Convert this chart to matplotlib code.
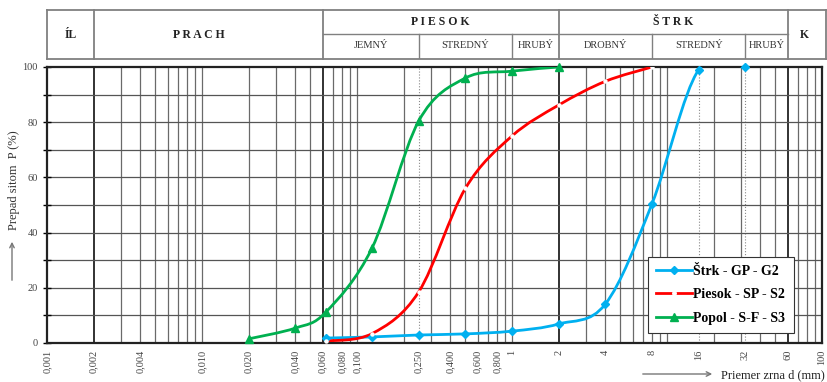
import numpy as np
import matplotlib
matplotlib.use('Agg')
import matplotlib.pyplot as plt
from matplotlib.path import Path
from matplotlib.patches import PathPatch, FancyArrowPatch
from matplotlib.lines import Line2D

plt.rcParams['font.family'] = ['Liberation Serif', 'DejaVu Serif']

# grain size curves (d in mm, passing in %)
d_strk = [0.063, 0.125, 0.25, 0.5, 1, 2, 4, 8, 16, 32]
p_strk = [1.8, 2.2, 2.9, 3.3, 4.3, 6.9, 14.1, 50.4, 99, 100]

d_piesok = [0.063, 0.125, 0.25, 0.5, 1, 2, 4, 8]
p_piesok = [0.7, 3.4, 18.5, 56, 75, 86.2, 94.8, 100]

d_popol = [0.02, 0.04, 0.063, 0.125, 0.25, 0.5, 1, 2]
p_popol = [1.5, 5.4, 11.2, 34.4, 80.4, 96, 98.5, 100]

series_names = ['Štrk - GP - G2', 'Piesok - SP - S2', 'Popol - S-F - S3']

xtick_vals = [0.001, 0.002, 0.004, 0.01, 0.02, 0.04, 0.06, 0.08, 0.1, 0.25,
              0.4, 0.6, 0.8, 1, 2, 4, 8, 16, 32, 60, 100]
xtick_labels = ['0,001', '0,002', '0,004', '0,010', '0,020', '0,040', '0,060',
                '0,080', '0,100', '0,250', '0,400', '0,600', '0,800', '1', '2',
                '4', '8', '16', '32', '60', '100']

# header classification (bounds in mm)
main_classes = [('ÍL', 0.001, 0.002), ('P R A C H', 0.002, 0.06),
                ('P I E S O K', 0.06, 2), ('Š T R K', 2, 60), ('K', 60, 100)]
sub_classes = [('JEMNÝ', 0.06, 0.25), ('STREDNÝ', 0.25, 1), ('HRUBÝ', 1, 2),
               ('DROBNÝ', 2, 8), ('STREDNÝ', 8, 32), ('HRUBÝ', 32, 60)]


def smooth_path(xs, ys):
    # excel-like smoothed line, bezier in log-x space
    pts = np.column_stack([np.log10(xs), ys])
    n = len(pts)
    verts = [pts[0]]
    codes = [Path.MOVETO]
    for i in range(n - 1):
        p0 = pts[max(i - 1, 0)]
        p1 = pts[i]
        p2 = pts[i + 1]
        p3 = pts[min(i + 2, n - 1)]
        verts += [p1 + (p2 - p0) / 6, p2 - (p3 - p1) / 6, p2]
        codes += [Path.CURVE4] * 3
    verts = np.array(verts)
    verts[:, 0] = 10 ** verts[:, 0]
    return Path(verts, codes)


W, H = 828, 382
fig = plt.figure(figsize=(W / 100, H / 100), dpi=100)
left, right, top, bottom = 47, 822, 67, 343
ax = fig.add_axes([left / W, 1 - bottom / H, (right - left) / W, (bottom - top) / H])
ax.set_xscale('log')
ax.set_xlim(0.001, 100)
ax.set_ylim(0, 100)

# grid
for dec in [0.001, 0.01, 0.1, 1, 10]:
    for k in range(1, 10):
        v = dec * k
        if v <= 0.001 or v >= 100:
            continue
        strong = any(abs(v - b) < 1e-9 for b in (0.002, 0.06, 2, 60))
        ax.axvline(v, color='#222222' if strong else '#6a6a6a',
                   lw=1.3 if strong else 0.9, zorder=1)
for v in [0.25, 16, 32]:
    ax.axvline(v, color='#888888', lw=0.8, ls=':', zorder=1)
for y in range(10, 100, 10):
    ax.axhline(y, color='#555555', lw=0.9, zorder=1)

colors = ['#00b0f0', '#ff0000', '#00b050']
data = [(d_strk, p_strk), (d_piesok, p_piesok), (d_popol, p_popol)]
for (xs, ys), c in zip(data, colors):
    ax.add_patch(PathPatch(smooth_path(xs, ys), fc='none', ec=c, lw=2.0, zorder=3))

ax.plot(d_strk, p_strk, ls='none', marker='D', ms=4, color=colors[0], zorder=4, clip_on=False)
ax.plot(d_piesok, p_piesok, ls='none', marker='o', ms=2.2, mfc='white', mec='white', zorder=4)
ax.plot(d_popol, p_popol, ls='none', marker='^', ms=5.5, color=colors[2], zorder=4, clip_on=False)

for s in ax.spines.values():
    s.set_linewidth(1.6)
    s.set_color('#222222')

ax.set_xticks(xtick_vals)
ax.set_xticklabels(xtick_labels, rotation=90, fontsize=7.5, color='#444444')
ax.xaxis.set_minor_locator(matplotlib.ticker.NullLocator())
ax.tick_params(axis='x', length=0, pad=5)
ax.set_yticks(range(0, 101, 20))
ax.set_yticks(range(10, 100, 20), minor=True)
ax.tick_params(axis='y', which='both', direction='inout', length=6, width=1,
               labelsize=7.5, labelcolor='#444444')

handles = [
    Line2D([], [], color=colors[0], lw=2, marker='D', ms=4),
    Line2D([], [], color=colors[1], lw=2, marker='o', ms=2.5, mfc='white', mec='white'),
    Line2D([], [], color=colors[2], lw=2, marker='^', ms=5.5),
]
leg = ax.legend(handles, series_names, loc='lower left', bbox_to_anchor=(0.775, 0.036),
                prop={'family': 'Liberation Serif', 'weight': 'bold', 'size': 10},
                fancybox=False, edgecolor='#333333', framealpha=1, handlelength=2.6,
                handletextpad=0.1, borderpad=0.6, labelspacing=0.75, borderaxespad=0)
leg.get_frame().set_linewidth(0.8)
leg.set_zorder(5)

# header table, same log scale as the plot but reaching 4 px further right
h_top, h_mid, h_bot = 10, 34, 59
h_right = 826
hax = fig.add_axes([left / W, 1 - h_bot / H, (h_right - left) / W, (h_bot - h_top) / H])
hax.set_xscale('log')
xr = 100 * 10 ** (5 * (h_right - right) / (right - left))
hax.set_xlim(0.001, xr)
hax.set_ylim(0, 1)
hax.axis('off')
mid = (h_bot - h_mid) / (h_bot - h_top)
lc = '#808080'
hax.plot([0.001, xr], [1, 1], color=lc, lw=1.3, clip_on=False)
hax.plot([0.001, xr], [0, 0], color=lc, lw=1.3, clip_on=False)
hax.plot([0.06, 60], [mid, mid], color=lc, lw=1.0)
for v in [0.001, 0.002, 0.06, 2, 60, xr]:
    hax.plot([v, v], [0, 1], color=lc, lw=1.3, clip_on=False)
for v in [0.25, 1, 8, 32]:
    hax.plot([v, v], [0, mid], color=lc, lw=1.0)

for name, a, b in main_classes:
    xc = np.sqrt(a * b)
    if name == 'P R A C H':
        xc = 0.0095
    yc = (1 + mid) / 2 if a in (0.06, 2) else 0.5
    hax.text(xc, yc, name, ha='center', va='center', fontsize=8.5,
             fontweight='bold', color='#222222')
for name, a, b in sub_classes:
    hax.text(np.sqrt(a * b), mid / 2 + 0.03, name, ha='center', va='center',
             fontsize=7.5, color='#333333')

# axis labels with arrows
fig.text(14 / W, 1 - 180 / H, 'Prepad sitom  P (%)', rotation=90, ha='center',
         va='center', fontsize=9, color='#333333')
fig.add_artist(FancyArrowPatch(
    (12 / W, 1 - 283 / H), (12 / W, 1 - 239 / H), transform=fig.transFigure,
    arrowstyle='->', mutation_scale=8, color='#777777', lw=1))
fig.text(721 / W, 1 - 375 / H, 'Priemer zrna d (mm)', ha='left', va='center',
         fontsize=9, color='#222222')
fig.add_artist(FancyArrowPatch(
    (640 / W, 1 - 374 / H), (715 / W, 1 - 374 / H), transform=fig.transFigure,
    arrowstyle='->', mutation_scale=8, color='#777777', lw=1))

fig.savefig('out.png', dpi=100)
